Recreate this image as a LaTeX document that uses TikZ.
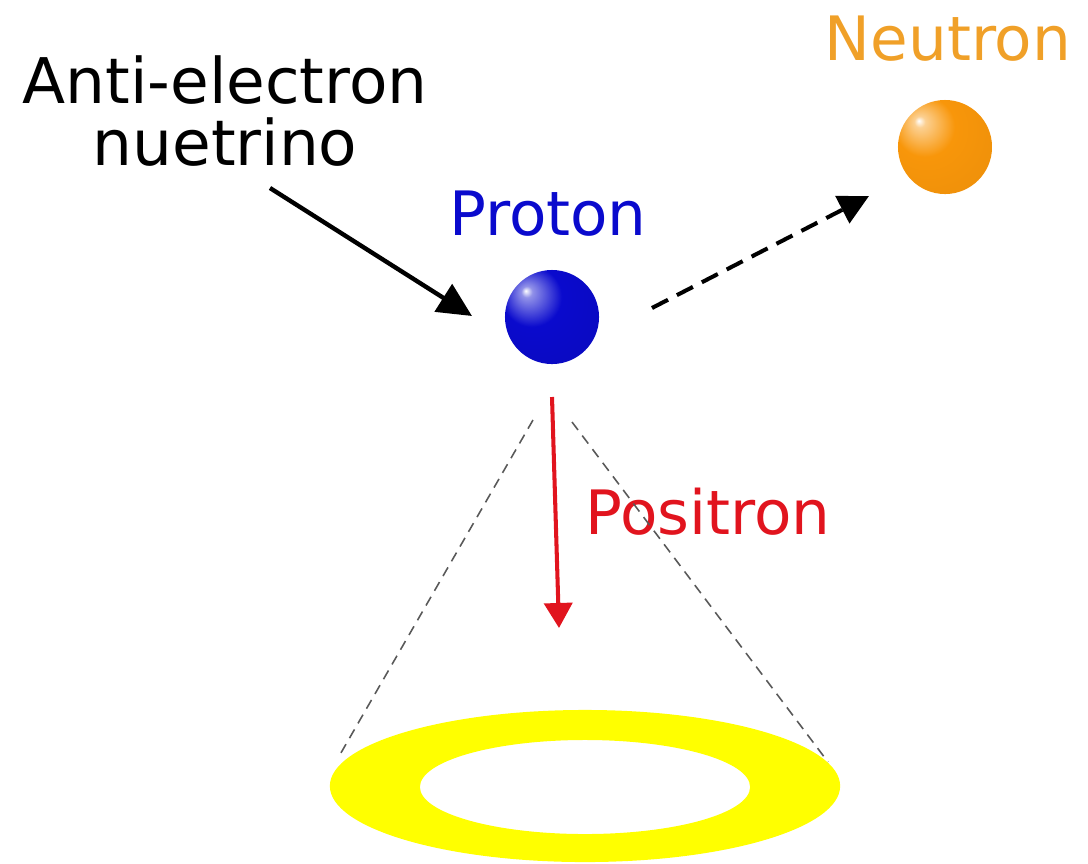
\documentclass[tikz,border=0pt]{standalone}
\usepackage{fontspec}
\setmainfont{DejaVu Sans}
\usetikzlibrary{arrows.meta}
\definecolor{protonblue}{RGB}{10,10,205}
\definecolor{neutronorange}{RGB}{248,150,10}
\definecolor{labelorange}{RGB}{240,160,40}
\definecolor{positronred}{RGB}{225,20,30}
\definecolor{ringyellow}{RGB}{255,255,0}
\pgfdeclareradialshading{protonball}{\pgfqpoint{-14bp}{14bp}}{color(0bp)=(white); color(3bp)=(protonblue!45!white); color(16bp)=(protonblue); color(45bp)=(protonblue!92!black); color(70bp)=(protonblue!80!black)}
\pgfdeclareradialshading{neutronball}{\pgfqpoint{-14bp}{14bp}}{color(0bp)=(white); color(3bp)=(neutronorange!45!white); color(16bp)=(neutronorange); color(45bp)=(neutronorange!95!black); color(70bp)=(neutronorange!85!black)}
\tikzset{
  lbl/.style={inner sep=0pt, anchor=base, font=\fontsize{17.4}{17.6}\selectfont},
  ball/.style={circle, inner sep=0pt, minimum size=0.94cm},
  cone/.style={draw=black!65, line width=0.45pt, dash pattern=on 0.1cm off 0.07cm}
}

\begin{document}
\begin{tikzpicture}[x={(0.01cm,0cm)}, y={(0cm,-0.01cm)}]
  \useasboundingbox (0,0) rectangle (1088,863);
  % Nodes
  \node[lbl, align=center, font=\fontsize{17.9}{17.6}\selectfont] (nu) at (225,165) {Anti-electron\\nuetrino};
  \node[lbl, text=protonblue] (Plabel) at (548,235) {Proton};
  \node[lbl, text=labelorange] (Nlabel) at (948,60) {Neutron};
  \node[lbl, text=positronred] (Elabel) at (708,534) {Positron};
  \node[ball, shading=protonball] (proton) at (552,317) {};
  \node[ball, shading=neutronball] (neutron) at (945,147) {};
  \coordinate (nuA) at (270,188);
  \coordinate (nuB) at (472,316);
  \coordinate (nA) at (652,308);
  \coordinate (nB) at (869,196);
  \coordinate (eA) at (552,397);
  \coordinate (eB) at (559,628);
  \coordinate (coneL) at (533,420);
  \coordinate (coneR) at (572,422);
  \coordinate (ringL) at (338,758);
  \coordinate (ringR) at (828,762);
  % Edges
  \draw[line width=1.25pt, -{Triangle[length=0.34cm, width=0.32cm]}] (nuA) -- (nuB);
  \draw[line width=1.15pt, dash pattern=on 0.18cm off 0.1cm, -{Triangle[length=0.3cm, width=0.3cm]}] (nA) -- (nB);
  \draw[positronred, line width=1.15pt, -{Triangle[length=0.25cm, width=0.28cm]}] (eA) -- (eB);
  \draw[cone] (coneL) -- (ringL);
  \draw[cone] (coneR) -- (ringR);

  % Ring
  \fill[ringyellow, even odd rule] (585,786) ellipse [x radius=2.55cm, y radius=0.76cm]
    (585,787) ellipse [x radius=1.65cm, y radius=0.47cm];
\end{tikzpicture}
\end{document}
